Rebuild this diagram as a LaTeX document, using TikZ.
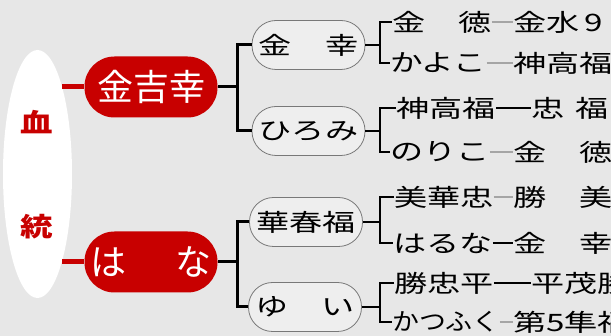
\documentclass[tikz,border=0pt]{standalone}
\usepackage{graphicx}
\usepackage{fontspec}
\usetikzlibrary{shapes.geometric}
\newfontfamily\jp{Noto Sans CJK JP}
\definecolor{bg}{RGB}{231,231,231}
\definecolor{bred}{RGB}{200,0,0}
\definecolor{dashgray}{RGB}{165,165,165}
\definecolor{pillfill}{RGB}{238,238,238}
\definecolor{pilldraw}{RGB}{120,120,120}
\newcommand{\wx}[2][1.38]{\scalebox{#1}[1]{#2}}
\tikzset{
 redpill/.style={rectangle, rounded corners=30pt, fill=bred, minimum width=133pt, minimum height=61pt, text=white, font=\jp\fontsize{36pt}{36pt}\selectfont, inner sep=0pt},
 graypill/.style={rectangle, rounded corners=24pt, fill=pillfill, draw=pilldraw, line width=0.8pt, minimum width=113pt, minimum height=49pt, inner sep=0pt, font=\jp\fontsize{24pt}{24pt}\selectfont},
 namebox/.style={anchor=west, inner sep=0pt, font=\jp\fontsize{24pt}{24pt}\selectfont},
 redlink/.style={draw=bred, line width=5pt},
 bigbr/.style={draw=black, line width=3pt, line join=miter},
 smallbr/.style={draw=black, line width=2pt, line join=miter},
 dashg/.style={draw=dashgray, line width=2pt},
 dashk/.style={draw=black, line width=1.6pt},
 vtxt/.style={text=bred, inner sep=0pt, font=\jp\bfseries\fontsize{26pt}{26pt}\selectfont},
}
\begin{document}
\begin{tikzpicture}[x=1pt,y=-1pt]
\useasboundingbox (0,0) rectangle (611,336);
\clip (0,0) rectangle (611,336);
\fill[bg] (0,0) rectangle (611,336);

% oval with vertical title
\node[ellipse, fill=white, minimum width=69pt, minimum height=248pt, inner sep=0pt] (oval) at (37.5,174) {};
\node[vtxt] (t1) at (37,122) {\wx[1.25]{血}};
\node[vtxt] (t2) at (37,227) {\wx[1.25]{統}};

% red pills
\node[redpill] (kin) at (151,87) {金吉幸};
\node[redpill] (hana) at (151,262) {は\hspace{49pt}な};
\coordinate (o1) at (62,87);
\coordinate (o2) at (62,262);
\draw[redlink] (o1) -- (kin.west);
\draw[redlink] (o2) -- (hana.west);

% gray pills
\node[graypill] (g1) at (308.5,45) {\wx{金　幸}};
\node[graypill] (g2) at (308.5,131) {\wx{ひろみ}};
\node[graypill] (g3) at (306,222) {\wx{華春福}};
\node[graypill] (g4) at (305,307) {\wx{ゆ　い}};

% big brackets
\coordinate (j1) at (237,87);
\coordinate (j2) at (237,262);
\draw[bigbr] (kin.east) -- (j1);
\draw[bigbr] (g1.west) -- (g1.west -| j1) -- (g2.west -| j1) -- (g2.west);
\draw[bigbr] (hana.east) -- (j2);
\draw[bigbr] (g3.west) -- (g3.west -| j2) -- (g4.west -| j2) -- (g4.west);

% right column names
\node[namebox] (a1) at (392,22) {\wx{金　徳}};
\node[namebox] (b1) at (513,22) {\wx{金水\hspace{4pt}9}};
\node[namebox] (a2) at (390,63) {\wx[1.36]{かよこ}};
\node[namebox] (b2) at (513,63) {\wx{神高福}};
\node[namebox] (a3) at (396,108) {\wx{神高福}};
\node[namebox] (b3) at (531,108) {\wx{忠\hspace{8pt}福}};
\node[namebox] (a4) at (390,152) {\wx{のりこ}};
\node[namebox] (b4) at (513,152) {\wx{金　徳}};
\node[namebox] (a5) at (394,197) {\wx{美華忠}};
\node[namebox] (b5) at (513,197) {\wx{勝　美}};
\node[namebox] (a6) at (393,243) {\wx{はるな}};
\node[namebox] (b6) at (513,243) {\wx{金　幸}};
\node[namebox] (a7) at (394,283) {\wx{勝忠平}};
\node[namebox] (b7) at (531,283) {\wx{平茂勝}};
\node[namebox] (a8) at (392,322) {\wx[1.12]{かつふく}};
\node[namebox] (b8) at (513,322) {\wx{第5隼福}};

% small brackets
\coordinate (s1) at (380,45);
\coordinate (s2) at (380,131);
\coordinate (s3) at (380,222);
\coordinate (s4) at (380,307);
\draw[smallbr] (g1.east) -- (s1);
\draw[smallbr] (a1.west) -- (a1.west -| s1) -- (a2.west -| s1) -- (a2.west);
\draw[smallbr] (g2.east) -- (s2);
\draw[smallbr] (a3.west) -- (a3.west -| s2) -- (a4.west -| s2) -- (a4.west);
\draw[smallbr] (g3.east) -- (s3);
\draw[smallbr] (a5.west) -- (a5.west -| s3) -- (a6.west -| s3) -- (a6.west);
\draw[smallbr] (g4.east) -- (s4);
\draw[smallbr] (a7.west) -- (a7.west -| s4) -- (a8.west -| s4) -- (a8.west);

% dashes between names
\draw[dashg] (a1.east) -- (b1.west);
\draw[dashg] (a2.east) -- (b2.west);
\draw[dashk] (a3.east) -- (b3.west);
\draw[dashg] (a4.east) -- (b4.west);
\draw[dashg] (a5.east) -- (b5.west);
\draw[dashk] (a6.east) -- (b6.west);
\draw[dashk] (a7.east) -- (b7.west);
\draw[dashg] (a8.east) -- (b8.west);
\end{tikzpicture}
\end{document}
